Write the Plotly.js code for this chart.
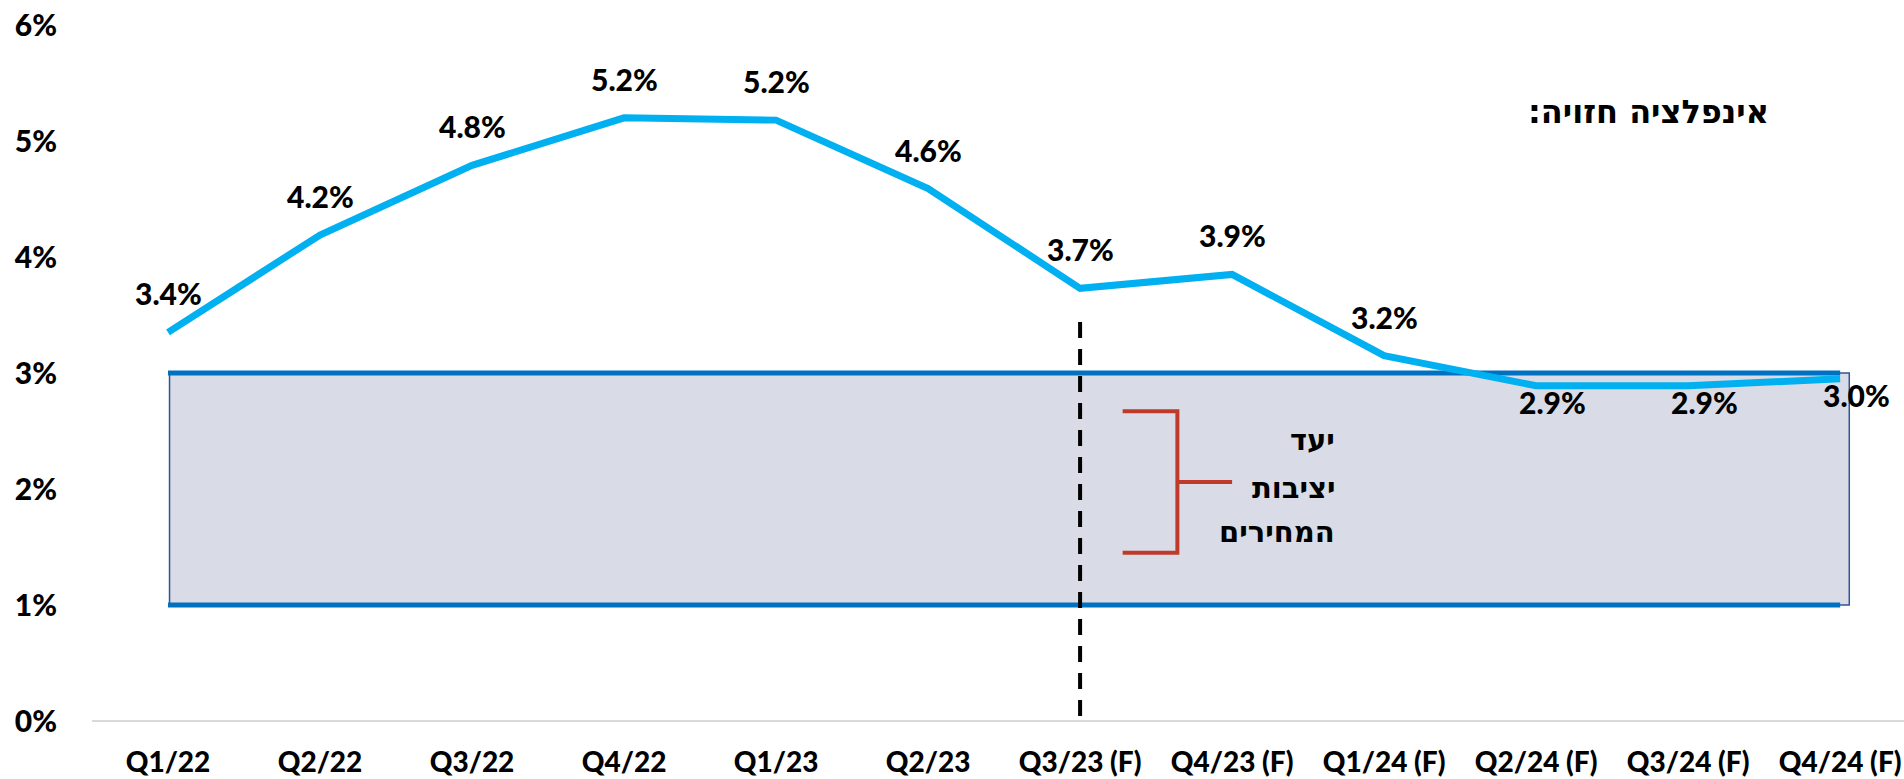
<!DOCTYPE html>
<html>
<head>
<meta charset="utf-8">
<script src="https://cdn.plot.ly/plotly-3.0.1.min.js"></script>
<style>html,body{margin:0;padding:0;background:#fff;}#chart{width:1904px;height:779px;}</style>
</head>
<body>
<div id="chart"></div>
<script>
const categories = ["Q1/22","Q2/22","Q3/22","Q4/22","Q1/23","Q2/23","Q3/23 (F)","Q4/23 (F)","Q1/24 (F)","Q2/24 (F)","Q3/24 (F)","Q4/24 (F)"];
const inflation = [3.35, 4.19, 4.79, 5.2, 5.18, 4.59, 3.73, 3.85, 3.15, 2.89, 2.89, 2.95];
const inflationLabels = ["3.4%","4.2%","4.8%","5.2%","5.2%","4.6%","3.7%","3.9%","3.2%","2.9%","2.9%","3.0%"];
const targetUpper = [3,3,3,3,3,3,3,3,3,3,3,3];
const targetLower = [1,1,1,1,1,1,1,1,1,1,1,1];
const yTickVals = [0,1,2,3,4,5,6];
const yTickText = ["0%","1%","2%","3%","4%","5%","6%"];
const titleText = "אינפלציה חזויה:\u200F";
const targetText = ["יעד","יציבות","המחירים"];

const numFont = {family: "Lato, 'Open Sans', sans-serif", size: 30, color: "#000", weight: 900};
const hebFont = {family: "'DejaVu Sans', 'Liberation Sans', sans-serif", size: 32, color: "#000", weight: 700};

const idx = categories.map((c,i)=>i);

const traces = [
  {x: idx, y: targetUpper, mode: "lines", line: {color: "#0070c0", width: 5}, hoverinfo: "skip"},
  {x: idx, y: targetLower, mode: "lines", line: {color: "#0070c0", width: 5}, hoverinfo: "skip"},
  {x: idx, y: inflation, mode: "lines", line: {color: "#00b0f0", width: 7}, hoverinfo: "skip"}
];

const annotations = inflationLabels.map((t,i)=>{
  const below = i >= 9;
  return {x: i, y: inflation[i], xref: "x", yref: "y", text: t, showarrow: false,
    font: numFont, xanchor: "center", yanchor: "middle",
    yshift: below ? -16 : 39, xshift: below ? 16 : 0};
});
annotations.push({x: 0.859, y: 0.875, xref: "paper", yref: "paper", text: titleText, showarrow: false,
  font: hebFont, xanchor: "center", yanchor: "middle"});
const targetY = [2.42, 2.01, 1.63];
targetText.forEach((t,i)=>annotations.push({x: 7.69, y: targetY[i], xref: "x", yref: "y", text: t,
  showarrow: false, font: {...hebFont, size: 29}, xanchor: "right", yanchor: "middle"}));

const red = "#bf3a2b";
const shapes = [
  {type: "rect", xref: "x", yref: "y", x0: 0.01, x1: 11.06, y0: 1, y1: 3, fillcolor: "#d9dce6",
   line: {color: "#2f5597", width: 1.5}, layer: "below"},
  {type: "line", xref: "x", yref: "y", x0: 6, x1: 6, y0: 3.44, y1: -0.23,
   line: {color: "#000", width: 4, dash: "16px,11px"}},
  {type: "path", xref: "x", yref: "y", path: "M 6.28 2.67 L 6.64 2.67 L 6.64 1.45 L 6.28 1.45",
   line: {color: red, width: 4}},
  {type: "line", xref: "x", yref: "y", x0: 6.64, x1: 7.0, y0: 2.06, y1: 2.06, line: {color: red, width: 4}}
];

const layout = {
  width: 1904, height: 779,
  margin: {l: 92, r: 0, t: 25, b: 58},
  paper_bgcolor: "#fff", plot_bgcolor: "#fff",
  showlegend: false,
  xaxis: {range: [-0.5, 11.42], tickmode: "array", tickvals: idx, ticktext: categories,
    showgrid: false, zeroline: false, showline: false, ticks: "",
    tickfont: {...numFont, size: 28}, ticklabelstandoff: 22, fixedrange: true},
  yaxis: {range: [0, 6], tickmode: "array", tickvals: yTickVals, ticktext: yTickText,
    showgrid: false, zeroline: true, zerolinecolor: "#d9d9d9", zerolinewidth: 2, showline: false,
    ticks: "", tickfont: numFont, ticklabelstandoff: 34, fixedrange: true},
  annotations: annotations,
  shapes: shapes
};

Plotly.newPlot("chart", traces, layout, {displayModeBar: false, staticPlot: true});
</script>
</body>
</html>
